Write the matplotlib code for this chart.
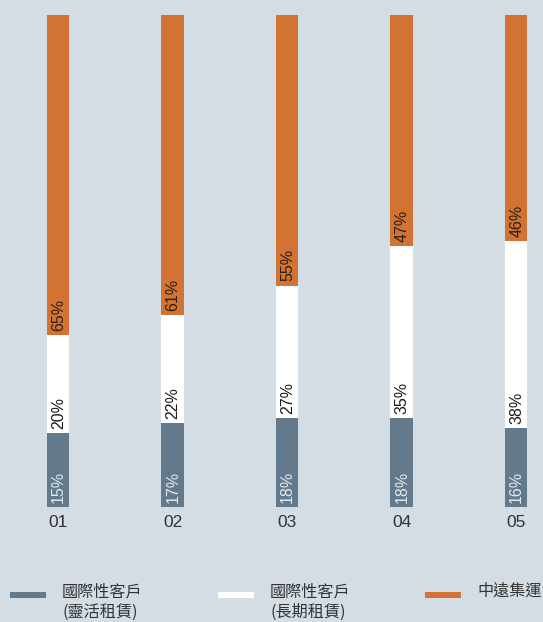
import matplotlib
matplotlib.use('Agg')
import matplotlib.pyplot as plt
from matplotlib.patches import Rectangle

categories = ['01', '02', '03', '04', '05']
flex_lease = [15, 17, 18, 18, 16]
long_lease = [20, 22, 27, 35, 38]
cosco = [65, 61, 55, 47, 46]
series_names = ['國際性客戶\n(靈活租賃)', '國際性客戶\n(長期租賃)', '中遠集運']

bg = '#d5dde4'
colors = ['#637a8c', '#ffffff', '#d27334']
label_colors = ['#e4e9ee', '#1a1a1a', '#2b2118']

W, H = 543, 622
fig = plt.figure(figsize=(W / 100, H / 100), dpi=100)
fig.patch.set_facecolor(bg)
ax = fig.add_axes([0, (H - 507) / H, 1, (507 - 15) / H])
ax.set_facecolor(bg)

num_font = ['Liberation Sans', 'DejaVu Sans']
cjk_font = ['Noto Sans CJK TC', 'DejaVu Sans']

x = list(range(len(categories)))
bottoms = [0] * len(categories)
for vals, col, lcol in zip([flex_lease, long_lease, cosco], colors, label_colors):
    ax.bar(x, vals, bottom=bottoms, width=0.2, color=col, linewidth=0)
    for i, v in enumerate(vals):
        ax.annotate(f'{v}%', xy=(i, bottoms[i]), xytext=(0.5, 3), textcoords='offset points',
                    rotation=90, ha='center', va='bottom', fontsize=11.5,
                    color=lcol, family=num_font)
    bottoms = [b + v for b, v in zip(bottoms, vals)]

ax.set_xlim((0 - 58) / 114.5, (543 - 58) / 114.5)
ax.set_ylim(0, 100)
ax.set_xticks(x)
ax.set_xticklabels(categories, family=num_font, fontsize=12.5, color='#333333')
ax.tick_params(axis='x', length=0, pad=6)
ax.set_yticks([])
for s in ax.spines.values():
    s.set_visible(False)

# legend
handle_x = [10, 218, 425]
text_x = [62, 270, 477]
for hx, tx, name, col in zip(handle_x, text_x, series_names, colors):
    fig.add_artist(Rectangle((hx / W, 1 - 598 / H), 36 / W, 6 / H,
                             transform=fig.transFigure, facecolor=col, linewidth=0))
    fig.text(tx / W, 1 - 583 / H, name, ha='left', va='top', fontsize=11.6,
             family=cjk_font, color='#333333', linespacing=1.3)

fig.savefig('out.png', dpi=100, facecolor=bg)
